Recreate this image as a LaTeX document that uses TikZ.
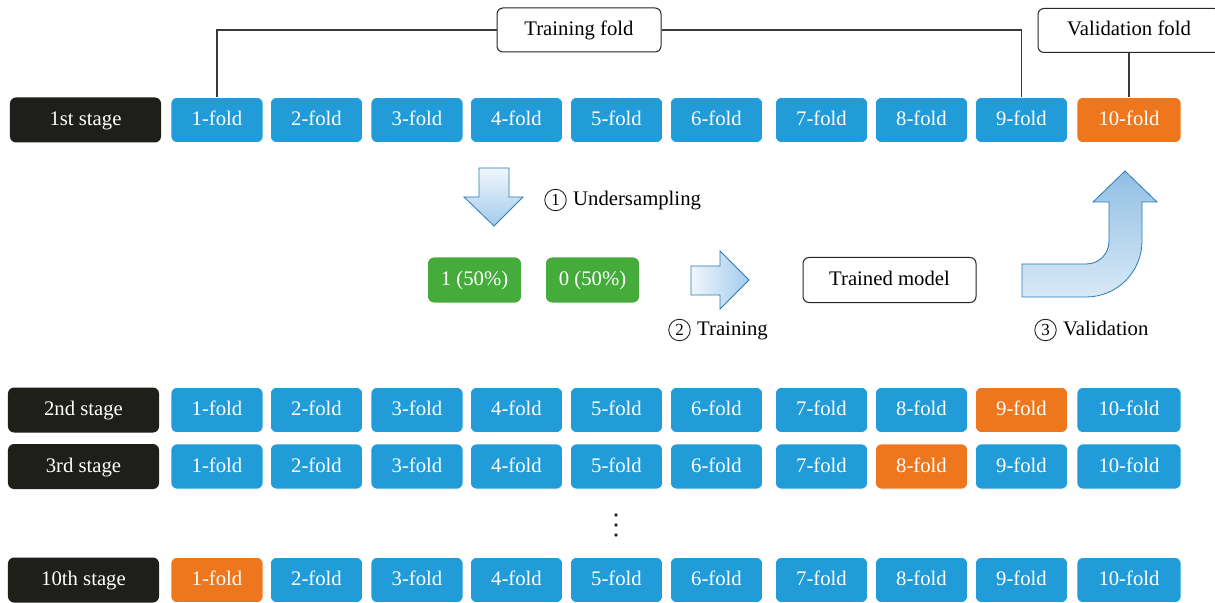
\documentclass[tikz,border=0pt]{standalone}
\usepackage{fontspec}
\setmainfont{Liberation Serif}
\definecolor{foldblue}{HTML}{219CD8}
\definecolor{foldorange}{HTML}{EE771E}
\definecolor{stageblack}{HTML}{1E1E1A}
\definecolor{classgreen}{HTML}{45AC3C}
\definecolor{arrowedge}{HTML}{2B7BB0}
\definecolor{arrowblue}{HTML}{A2CBEC}
\definecolor{arrowpale}{HTML}{F0F6FC}
\definecolor{linkgray}{HTML}{3A3A3A}
\tikzset{
  box/.style={rounded corners=6bp, minimum height=45bp, inner sep=0pt,
              text height=14bp, text depth=3bp, align=center},
  foldbox/.style={box, text=white, draw=white, line width=0.6bp},
  stagebox/.style={box, fill=stageblack, text=white, minimum width=151bp},
  classbox/.style={box, fill=classgreen, text=white, minimum width=93bp},
  labelbox/.style={box, draw=black!85, line width=1bp, fill=white, minimum height=44bp},
  link/.style={draw=linkgray, line width=1.3bp},
  fatarrow/.style={draw=arrowedge, line width=0.8bp, line join=miter},
  stepnum/.style={circle, draw=black!85, line width=0.9bp, minimum size=21.5bp, inner sep=0pt,
                  font=\fontsize{17}{17}\selectfont},
  steplabel/.style={anchor=west, inner sep=0pt, text height=14bp, text depth=3bp}
}
\begin{document}
\begin{tikzpicture}[x=1bp, y=-1bp, font=\fontsize{20.8}{24}\selectfont]
\clip (0,0) rectangle (1215,603);
\fill[white] (0,0) rectangle (1215,603);

% stage rows: row id / centre y / stage label / held-out fold / stage box centre x
\foreach \r/\y/\lab/\o/\sx in {1/120/1st/10/85.5, 2/410/2nd/9/83.5, 3/466.5/3rd/8/83.5, 10/580/10th/1/83.5}{
  \node[stagebox] (s\r) at (\sx,\y) {\lab{} stage};
  \foreach \i/\cx in {1/217, 2/316.5, 3/417, 4/516.5, 5/616.5, 6/716.5, 7/821.5, 8/921.5, 9/1021.5, 10/1129}{
    \ifnum\i=\o \def\fc{foldorange}\else\def\fc{foldblue}\fi
    \ifnum\i=10 \def\fw{104bp}\else\def\fw{92bp}\fi
    \node[foldbox, fill=\fc, minimum width=\fw] (f\r-\i) at (\cx,\y) {\i-fold};
  }
}

% fold labels and their brackets
\node[labelbox, minimum width=164bp] (tf) at (579,30) {Training fold};
\node[labelbox, minimum width=182bp] (vf) at (1129,30.5) {Validation fold};
\draw[link] (f1-1.north) |- (tf.west);
\draw[link] (tf.east) -| (f1-9.north);
\draw[link] (f1-10.north) -- (vf.south);

% undersampling arrow
\draw[fatarrow, top color=arrowpale, bottom color=arrowblue]
  (479,168) -- (509,168) -- (509,197) -- (523,197) -- (494,226) -- (464,197) -- (479,197) -- cycle;
\node[stepnum] (n1) at (555.5,200) {1};
\node[steplabel] (us) at (573,200) {Undersampling};

% balanced classes
\node[classbox] (c1) at (474.5,280) {1 (50\%)};
\node[classbox] (c0) at (592.5,280) {0 (50\%)};

% training arrow
\draw[fatarrow, left color=arrowpale, right color=arrowblue]
  (691,266) -- (720,266) -- (720,251) -- (749,280) -- (720,309) -- (720,295) -- (691,295) -- cycle;
\node[stepnum] (n2) at (679.5,330) {2};
\node[steplabel] (tr) at (697,330) {Training};

\node[labelbox, minimum width=173bp, minimum height=45bp] (tm) at (889.5,280) {Trained model};

% validation arrow bending up towards the held-out fold
\draw[fatarrow, bottom color=arrowpale!70!arrowblue, top color=arrowblue!85!arrowedge]
  (1022,264) -- (1086,264) .. controls (1099,264) and (1109,254) .. (1109,241)
  -- (1109,202) -- (1093,202) -- (1125,171) -- (1157,202) -- (1142,202) -- (1142,241)
  .. controls (1142,272) and (1117,297) .. (1086,297) -- (1022,297) -- cycle;
\node[stepnum] (n3) at (1045.5,330) {3};
\node[steplabel] (va) at (1063,330) {Validation};

% remaining stages elided
\foreach \d in {515,525,535} \fill[black!85] (616,\d) circle (1.8);
\end{tikzpicture}
\end{document}
